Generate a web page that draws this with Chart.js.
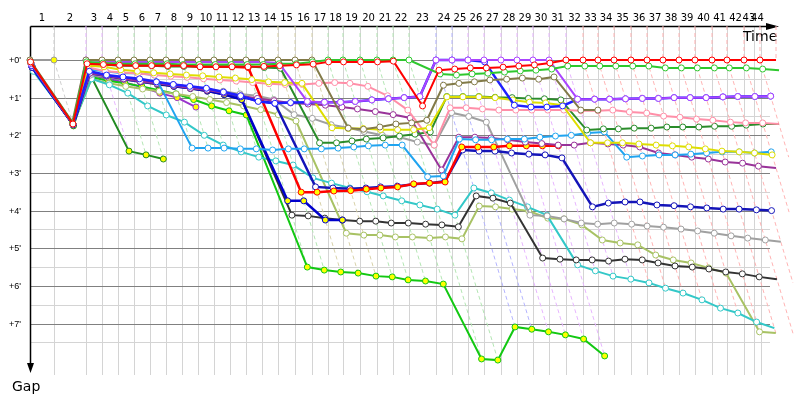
<!DOCTYPE html>
<html><head><meta charset="utf-8">
<script src="https://cdn.jsdelivr.net/npm/chart.js@4.4.1/dist/chart.umd.min.js"></script>
<style>html,body{margin:0;padding:0;background:#fff}</style>
</head><body>
<canvas id="c" width="800" height="400"></canvas>
<script>
// ---- DATA ----
// leader's elapsed time (minutes) at the end of each lap, lap 0 = start
const lapTimes = [0, 2.15, 5.02, 6.46, 7.89, 9.33, 10.76, 12.20, 13.63, 15.07, 16.50, 17.94, 19.37, 20.81, 22.24, 23.77, 25.29, 26.73, 28.07, 29.60, 31.12, 32.56, 33.99, 36.41, 37.85, 39.28, 40.72, 42.24, 43.68, 45.11, 46.55, 48.07, 49.60, 50.94, 52.38, 53.90, 55.34, 56.77, 58.21, 59.64, 61.17, 62.51, 64.04, 65.47, 66.91];
// time marks of the lap grid on the top axis (last two squeezed by the time limit)
const lapGridTimes = [0, 2.15, 5.02, 6.46, 7.89, 9.33, 10.76, 12.20, 13.63, 15.07, 16.50, 17.94, 19.37, 20.81, 22.24, 23.77, 25.29, 26.73, 28.07, 29.60, 31.12, 32.56, 33.99, 36.41, 37.85, 39.28, 40.72, 42.24, 43.68, 45.11, 46.55, 48.07, 49.60, 50.94, 52.38, 53.90, 55.34, 56.77, 58.21, 59.64, 61.17, 62.51, 64.04, 64.93, 65.56];
const lapLabels = ['1','2','3','4','5','6','7','8','9','10','11','12','13','14','15','16','17','18','19','20','21','22','23','24','25','26','27','28','29','30','31','32','33','34','35','36','37','38','39','40','41','42','43','44'];
const gapTicks = [0, 1, 2, 3, 4, 5, 6, 7];
const gapTickLabels = ["+0'", "+1'", "+2'", "+3'", "+4'", "+5'", "+6'", "+7'"];
// leader of each lap 1..44 (colours the lap lines)
const lapLeader = ['grey','purple','purple','green','green','green','green','green','green','green','green','green','green','olive','olive','olive','green','green','green','green','green','green','blue','blue','purple','purple','purple','purple','purple','purple','purple','red','red','red','red','red','red','red','red','red','red','red','red','red'];

// gap to leader (minutes) per lap, from lap 0
const redGaps = [0.05, 1.7, 0.1, 0.12, 0.14, 0.15, 0.15, 0.15, 0.15, 0.18, 0.18, 0.18, 0.18, 0.17, 0.15, 0.13, 0.11, 0.05, 0.05, 0.05, 0.05, 0.03, 1.22, 0.27, 0.24, 0.21, 0.21, 0.19, 0.16, 0.13, 0.08, 0,0,0,0,0,0,0,0,0,0,0,0,0,0];
const greenGaps = [0.05, 1.68, 0.05, 0.08, 0.1, 0.1, 0.1, 0.1, 0.12, 0.12, 0.12, 0.12, 0.12, 0.12, 0.1, 0.1, 0.05, 0,0,0,0,0,0, 0.37, 0.4, 0.37, 0.35, 0.32, 0.29, 0.27, 0.24, 0.16, 0.16, 0.16, 0.16, 0.16, 0.16, 0.21, 0.21, 0.21, 0.21, 0.21, 0.21, 0.24, 0.27];
const oliveGaps = [0, 1.65, 0,0,0,0,0,0,0,0,0,0,0,0,0,0,0, 1.81, 1.84, 1.78, 1.7, 1.67, 1.6, 0.67, 0.62, 0.58, 0.53, 0.51, 0.48, 0.51, 0.45, 1.33, 1.33];
const purpleGaps = [0.1, 1.7, 0, 0.03, 0.05, 0.05, 0.05, 0.05, 0.05, 0.05, 0.05, 0.05, 0.05, 0.05, 0.08, 1.1, 1.12, 1.12, 1.1, 1.06, 1.03, 1.0, 0.97, 0,0,0,0,0,0,0,0, 1.04, 1.04, 1.04, 1.03, 1.02, 1.02, 1.0, 1.0, 1.0, 0.98, 0.97, 0.97, 0.96, 0.93];
const blueGaps = [0.15, 1.7, 0.3, 0.4, 0.45, 0.5, 0.58, 0.65, 0.7, 0.75, 0.85, 0.95, 1.1, 1.15, 1.13, 1.12, 1.12, 1.12, 1.1, 1.06, 1.03, 1.0, 0.97, 0, 0, 0, 0.05, 1.2, 1.25, 1.25, 1.22, 1.04, 1.04, 1.04, 1.03, 1.02, 1.02, 1.0, 1.0, 1.0, 0.98, 0.97, 0.97, 0.96, 0.93];
const navyGaps = [0.2, 1.72, 0.32, 0.42, 0.48, 0.55, 0.6, 0.66, 0.72, 0.78, 0.88, 0.98, 1.08, 1.15, 3.37, 3.4, 3.42, 3.4, 3.37, 3.35, 3.3, 3.27, 3.22, 2.39, 2.42, 2.42, 2.47, 2.5, 2.52, 2.6, 3.9, 3.8, 3.77, 3.77, 3.85, 3.87, 3.9, 3.93, 3.96, 3.96, 3.98, 4.0, 4.04];
const blueYGaps = [0.2, 1.72, 0.35, 0.42, 0.5, 0.58, 0.62, 0.7, 0.75, 0.82, 0.92, 1.05, 3.74, 3.74, 4.25, 4.25];
const redYGaps = [0.1, 1.7, 0.12, 0.1, 0.1, 0.1, 0.1, 0.15, 0.15, 0.18, 0.18, 0.18, 0.2, 3.51, 3.51, 3.48, 3.47, 3.43, 3.4, 3.37, 3.29, 3.27, 3.24, 2.31, 2.31, 2.31, 2.28, 2.28, 2.28, 2.28];
const yellowGaps = [0.1, 1.7, 0.15, 0.18, 0.26, 0.3, 0.34, 0.37, 0.4, 0.42, 0.45, 0.48, 0.52, 0.58, 0.6, 0.62, 1.8, 1.82, 1.82, 1.85, 1.85, 1.85, 1.8, 0.98, 0.98, 0.98, 1.0, 1.06, 1.12, 1.14, 1.2, 2.2, 2.2, 2.2, 2.23, 2.26, 2.28, 2.31, 2.36, 2.42, 2.44, 2.47, 2.52, 2.58];
const pinkGaps = [0.1, 1.7, 0.2, 0.3, 0.33, 0.36, 0.4, 0.43, 0.46, 0.5, 0.53, 0.56, 0.6, 0.63, 0.65, 0.65, 0.62, 0.6, 0.62, 0.7, 0.95, 1.33, 2.26, 1.27, 1.27, 1.3, 1.33, 1.33, 1.33, 1.33, 1.33, 1.35, 1.35, 1.33, 1.38, 1.41, 1.49, 1.52, 1.57, 1.6, 1.65, 1.67, 1.67, 1.7];
const skyGaps = [0.1, 1.7, 0.25, 0.3, 0.35, 0.35, 0.4, 2.34, 2.34, 2.34, 2.36, 2.36, 2.39, 2.36, 2.36, 2.36, 2.34, 2.31, 2.28, 2.26, 2.26, 3.1, 3.08, 2.1, 2.12, 2.12, 2.1, 2.1, 2.05, 2.02, 2.0, 1.94, 1.91, 2.58, 2.55, 2.52, 2.52, 2.5, 2.47, 2.44, 2.44, 2.47, 2.44, 2.42];
const cyanGaps = [0.3, 1.7, 0.5, 0.66, 0.88, 1.22, 1.46, 1.65, 2.0, 2.26, 2.44, 2.58, 2.68, 2.79, 3.13, 3.27, 3.4, 3.5, 3.61, 3.74, 3.85, 3.96, 4.12, 3.4, 3.53, 3.72, 3.9, 4.12, 5.44, 5.6, 5.74, 5.82, 5.92, 6.06, 6.19, 6.37, 6.59, 6.72, 6.96, 7.12, 7.33];
const lightOliveGaps = [0.2, 1.72, 0.5, 0.62, 0.7, 0.77, 0.83, 0.9, 0.97, 1.05, 1.13, 1.22, 1.32, 1.45, 1.62, 4.6, 4.65, 4.65, 4.7, 4.7, 4.73, 4.7, 4.75, 3.88, 3.9, 3.96, 4.01, 4.2, 4.22, 4.38, 4.78, 4.86, 4.91, 5.18, 5.31, 5.39, 5.52, 5.66, 7.22, 7.25, 7.3];
const magentaGaps = [0.15, 1.7, 0.35, 0.42, 0.5, 0.57, 0.62, 0.68, 0.75, 0.8, 0.87, 0.95, 1.02, 1.08, 1.14, 1.17, 1.2, 1.25, 1.3, 1.37, 1.45, 1.54, 2.92, 2.05, 2.05, 2.07, 2.12, 2.18, 2.22, 2.26, 2.26, 2.2, 2.23, 2.26, 2.31, 2.47, 2.52, 2.58, 2.63, 2.71, 2.74, 2.82, 2.87];
const greyGaps = [0.2, 1.7, 0.4, 0.45, 0.52, 0.58, 0.62, 0.67, 0.72, 0.78, 0.83, 0.9, 0.95, 1.05, 1.45, 1.55, 1.72, 1.8, 1.9, 2.0, 2.05, 2.18, 2.26, 1.4, 1.5, 1.65, 4.12, 4.14, 4.22, 4.33, 4.36, 4.33, 4.36, 4.41, 4.44, 4.49, 4.54, 4.6, 4.67, 4.73, 4.78, 4.83];
const blackGaps = [0.2, 1.72, 0.38, 0.45, 0.52, 0.58, 0.65, 0.7, 0.76, 0.83, 0.92, 1.05, 4.12, 4.14, 4.2, 4.25, 4.28, 4.28, 4.33, 4.33, 4.36, 4.38, 4.43, 3.61, 3.67, 3.8, 5.26, 5.29, 5.31, 5.31, 5.34, 5.29, 5.31, 5.39, 5.47, 5.5, 5.55, 5.63, 5.68, 5.76, 5.82, 5.92];
const darkGreenGaps = [0.1, 1.7, 0.1, 0.12, 0.15, 0.15, 0.15, 0.17, 0.17, 0.17, 0.17, 0.17, 0.17, 0.2, 0.22, 2.2, 2.2, 2.15, 2.1, 2.07, 2.02, 1.97, 1.91, 0.97, 0.97, 0.97, 0.99, 1.0, 1.02, 1.03, 1.06, 1.86, 1.83, 1.83, 1.81, 1.81, 1.78, 1.78, 1.78, 1.76, 1.76, 1.73, 1.7, 1.7];
const limeYGaps = [0.15, 1.7, 0.45, 0.55, 0.62, 0.7, 0.8, 0.9, 1.05, 1.22, 1.35, 1.46, 5.5, 5.58, 5.63, 5.66, 5.74, 5.76, 5.84, 5.87, 5.95, 7.94, 7.97, 7.09, 7.15, 7.22, 7.3, 7.41, 7.86];
const darkGreenYGaps = [0.1, 1.75, 0.4, 2.42, 2.52, 2.63];
const purpleYGaps = [0.15, 1.7, 0.4, 0.5, 0.6, 0.72, 0.88, 1.0, 1.25];
const greyYGaps = [0, 0];

// ---- STYLES ----
const WHITE = '#ffffff', YEL = '#ffff00';
const series = [
  {gaps: redGaps, color: '#ff0000', fill: WHITE, w: 2},
  {gaps: greenGaps, color: '#2ec82e', fill: WHITE, w: 2},
  {gaps: oliveGaps, color: '#827a48', fill: WHITE, w: 2},
  {gaps: purpleGaps, color: '#aa44ff', fill: WHITE, w: 2},
  {gaps: blueGaps, color: '#1f1fff', fill: WHITE, w: 2.5},
  {gaps: yellowGaps, color: '#dede00', fill: WHITE, w: 2},
  {gaps: pinkGaps, color: '#ff8fa8', fill: WHITE, w: 2},
  {gaps: darkGreenGaps, color: '#2a8c2a', fill: WHITE, w: 2},
  {gaps: skyGaps, color: '#20a4f0', fill: WHITE, w: 2},
  {gaps: magentaGaps, color: '#993399', fill: WHITE, w: 2},
  {gaps: redYGaps, color: '#ff0000', fill: YEL, w: 2.5},
  {gaps: navyGaps, color: '#1414b8', fill: WHITE, w: 2.5},
  {gaps: blueYGaps, color: '#0000cc', fill: YEL, w: 2.5},
  {gaps: greyGaps, color: '#a0a0a0', fill: WHITE, w: 2},
  {gaps: blackGaps, color: '#333333', fill: WHITE, w: 2},
  {gaps: cyanGaps, color: '#33c8c8', fill: WHITE, w: 2},
  {gaps: lightOliveGaps, color: '#a8c264', fill: WHITE, w: 2},
  {gaps: limeYGaps, color: '#12c812', fill: YEL, w: 2},
  {gaps: darkGreenYGaps, color: '#228b22', fill: YEL, w: 2},
  {gaps: purpleYGaps, color: '#9933cc', fill: YEL, w: 2},
  {gaps: greyYGaps, color: '#9a9a9a', fill: YEL, w: 2}
];
const lapLineColor = {grey:'#cfcfcf', purple:'#e7b6ff', green:'#b4e6b4', olive:'#d8d2aa', blue:'#b4b4ff', red:'#ffb4b4'};

const Y_MIN = -0.903, Y_MAX = 8.366, X_MAX = 66.37;

const datasets = [];
series.forEach(s => {
  datasets.push({
    data: s.gaps.map((g, i) => ({x: lapTimes[i] + g, y: g})),
    borderColor: s.color, backgroundColor: s.fill,
    pointBackgroundColor: s.fill, pointBorderColor: s.color,
    borderWidth: s.w, pointRadius: 3, pointBorderWidth: 1,
    pointHoverRadius: 3, tension: 0, clip: false
  });
});
// lap lines: from top, down to leader, then through every car's point on that lap
for (let n = 1; n < lapTimes.length; n++) {
  let gmax = 0;
  series.forEach(s => { if (s.gaps.length > n && s.gaps[n] > gmax) gmax = s.gaps[n]; });
  datasets.push({
    data: [{x: lapTimes[n], y: Y_MIN}, {x: lapTimes[n], y: 0}, {x: lapTimes[n] + gmax, y: gmax}],
    borderColor: lapLineColor[lapLeader[n - 1]], borderWidth: 1, borderDash: [4, 3],
    pointRadius: 0, tension: 0, clip: false
  });
}

const frame = {
  id: 'frame',
  beforeDatasetsDraw(chart) {
    const {ctx, chartArea: a, scales: {x, y}} = chart;
    ctx.save();
    ctx.lineWidth = 1;
    // vertical lap grid
    ctx.strokeStyle = '#d4d4d4';
    for (let n = 1; n < lapGridTimes.length; n++) {
      const px = Math.round(x.getPixelForValue(lapGridTimes[n])) + 0.5;
      ctx.beginPath(); ctx.moveTo(px, a.top); ctx.lineTo(px, a.bottom); ctx.stroke();
    }
    // horizontal half-minute grid
    for (let g = 0.5; g <= 7.5; g += 1) {
      const py = Math.round(y.getPixelForValue(g)) + 0.5;
      ctx.strokeStyle = '#d4d4d4';
      ctx.beginPath(); ctx.moveTo(a.left, py); ctx.lineTo(a.right, py); ctx.stroke();
    }
    gapTicks.forEach(g => {
      const py = Math.round(y.getPixelForValue(g)) + 0.5;
      ctx.strokeStyle = '#808080';
      ctx.beginPath(); ctx.moveTo(a.left, py); ctx.lineTo(a.right, py); ctx.stroke();
    });
    // axes with arrows
    ctx.strokeStyle = '#000'; ctx.fillStyle = '#000'; ctx.lineWidth = 1.5;
    const x0 = a.left + 0.5, y0 = a.top + 0.5;
    ctx.beginPath(); ctx.moveTo(x0, y0); ctx.lineTo(a.right + 2, y0); ctx.stroke();
    ctx.beginPath(); ctx.moveTo(a.right + 9, y0); ctx.lineTo(a.right - 4, y0 - 3.5); ctx.lineTo(a.right - 4, y0 + 3.5); ctx.closePath(); ctx.fill();
    ctx.beginPath(); ctx.moveTo(x0, y0); ctx.lineTo(x0, a.bottom - 6); ctx.stroke();
    ctx.beginPath(); ctx.moveTo(x0, a.bottom - 2); ctx.lineTo(x0 - 3.5, a.bottom - 12); ctx.lineTo(x0 + 3.5, a.bottom - 12); ctx.closePath(); ctx.fill();
    // lap labels, centred in each lap of the grid
    ctx.font = '10px "DejaVu Sans"'; ctx.textAlign = 'center'; ctx.textBaseline = 'middle';
    lapLabels.forEach((lab, i) => {
      const px = (x.getPixelForValue(lapGridTimes[i]) + x.getPixelForValue(lapGridTimes[i + 1])) / 2;
      ctx.fillText(lab, px, 18);
    });
    // gap labels
    ctx.font = '9px "Liberation Sans"'; ctx.textAlign = 'right';
    gapTicks.forEach((g, i) => ctx.fillText(gapTickLabels[i], a.left - 9, y.getPixelForValue(g) + 0.5));
    // axis titles
    ctx.font = '14px "DejaVu Sans"'; ctx.textAlign = 'left'; ctx.textBaseline = 'alphabetic';
    ctx.fillText('Time', a.right - 27, 41);
    ctx.fillText('Gap', a.left - 18, 391);
    ctx.restore();
  }
};

new Chart(document.getElementById('c'), {
  type: 'line',
  data: {datasets},
  options: {
    responsive: false, animation: false, devicePixelRatio: 1,
    layout: {padding: {left: 30, right: 30, top: 26, bottom: 25}},
    scales: {
      x: {type: 'linear', min: 0, max: X_MAX, display: false},
      y: {type: 'linear', min: Y_MIN, max: Y_MAX, reverse: true, display: false}
    },
    plugins: {legend: {display: false}, tooltip: {enabled: false}},
    events: []
  },
  plugins: [frame]
});
</script>
</body></html>
